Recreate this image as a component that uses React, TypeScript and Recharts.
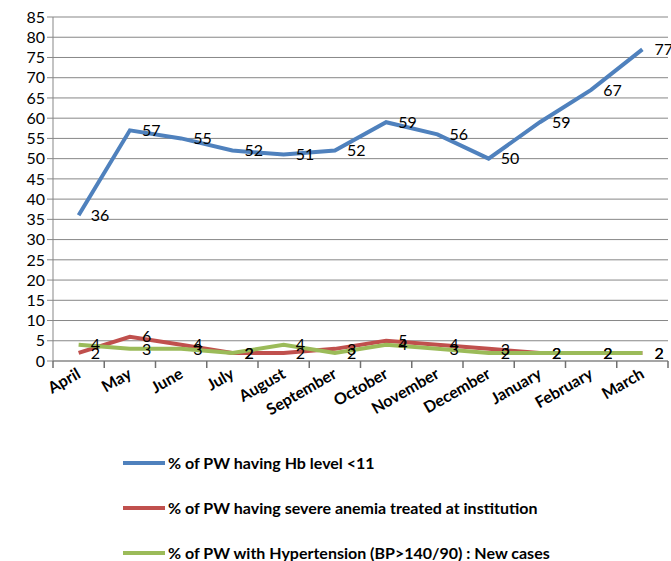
import React from 'react';
import {
  LineChart,
  Line,
  XAxis,
  YAxis,
  CartesianGrid,
  Legend,
  LabelList,
} from 'recharts';

const months = [
  'April', 'May', 'June', 'July', 'August', 'September',
  'October', 'November', 'December', 'January', 'February', 'March',
];
const hbBelow11 = [36, 57, 55, 52, 51, 52, 59, 56, 50, 59, 67, 77];
const severeAnemia = [2, 6, 4, 2, 2, 3, 5, 4, 3, 2, 2, 2];
const hypertension = [4, 3, 3, 2, 4, 2, 4, 3, 2, 2, 2, 2];
const yTicks = [0, 5, 10, 15, 20, 25, 30, 35, 40, 45, 50, 55, 60, 65, 70, 75, 80, 85];

const seriesInfo = [
  { key: 'hb', name: '% of PW having Hb level <11', color: '#4F81BD' },
  { key: 'severe', name: '% of PW having severe anemia treated at institution', color: '#C0504D' },
  { key: 'hyper', name: '% of PW with Hypertension (BP>140/90) : New cases', color: '#9BBB59' },
];

const data = months.map((m, i) => ({
  month: m,
  hb: hbBelow11[i],
  severe: severeAnemia[i],
  hyper: hypertension[i],
}));

const FONT = 'Lato, "Open Sans", sans-serif';
const BAND = (671 - 53 - 3) / 12;

// rotated month labels + Excel style tick marks between categories
function MonthTick(props: any) {
  const { x, y, payload, index } = props;
  const last = index === months.length - 1;
  const left = x - BAND / 2;
  const right = x + BAND / 2;
  return (
    <g>
      <path
        d={`M${left},${y}L${left},${y + 7}` + (last ? `M${right},${y}L${right},${y + 7}` : '')}
        stroke="#707070"
        strokeWidth={1.5}
        fill="none"
      />
      <g transform={`translate(${x + 3},${y + 16})`}>
        <text
          x={0}
          y={0}
          textAnchor="end"
          transform="rotate(-30)"
          fontSize={16}
          fontWeight={700}
          fill="#000"
          fontFamily={FONT}
        >
          {payload.value}
        </text>
      </g>
    </g>
  );
}

function LegendBox() {
  return (
    <div style={{ height: 130, position: 'relative', fontFamily: FONT }}>
      {seriesInfo.map((s, i) => (
        <div
          key={s.key}
          style={{
            position: 'absolute',
            left: 123,
            top: 22 + i * 45,
            display: 'flex',
            alignItems: 'center',
            whiteSpace: 'nowrap',
          }}
        >
          <span
            style={{
              display: 'inline-block',
              width: 42,
              height: 4,
              background: s.color,
              marginRight: 3,
            }}
          />
          <span style={{ fontSize: 16, fontWeight: 700, color: '#000' }}>{s.name}</span>
        </div>
      ))}
    </div>
  );
}

export default function App() {
  return (
    <div style={{ position: 'absolute', left: 0, top: 0, background: '#fff' }}>
      <LineChart
        width={671}
        height={561}
        data={data}
        margin={{ top: 17, right: 3, left: 0, bottom: 0 }}
      >
        <CartesianGrid vertical={false} stroke="#878787" strokeWidth={1} />
        <XAxis
          dataKey="month"
          scale="band"
          height={70}
          stroke="#878787"
          tickLine={false}
          tickSize={0}
          tickMargin={0}
          interval={0}
          tick={<MonthTick />}
        />
        <YAxis
          width={53}
          domain={[0, 85]}
          ticks={yTicks}
          interval={0}
          stroke="#878787"
          tickSize={6}
          tick={{ fill: '#000', fontSize: 16, fontFamily: FONT }}
        />
        <Legend verticalAlign="bottom" height={130} content={() => <LegendBox />} />
        {seriesInfo.map((s) => (
          <Line
            key={s.key}
            dataKey={s.key}
            name={s.name}
            stroke={s.color}
            strokeWidth={4}
            dot={false}
            type="linear"
            isAnimationActive={false}
          >
            <LabelList
              dataKey={s.key}
              position="right"
              offset={12}
              fill="#000"
              fontSize={16}
              fontFamily={FONT}
            />
          </Line>
        ))}
      </LineChart>
    </div>
  );
}
